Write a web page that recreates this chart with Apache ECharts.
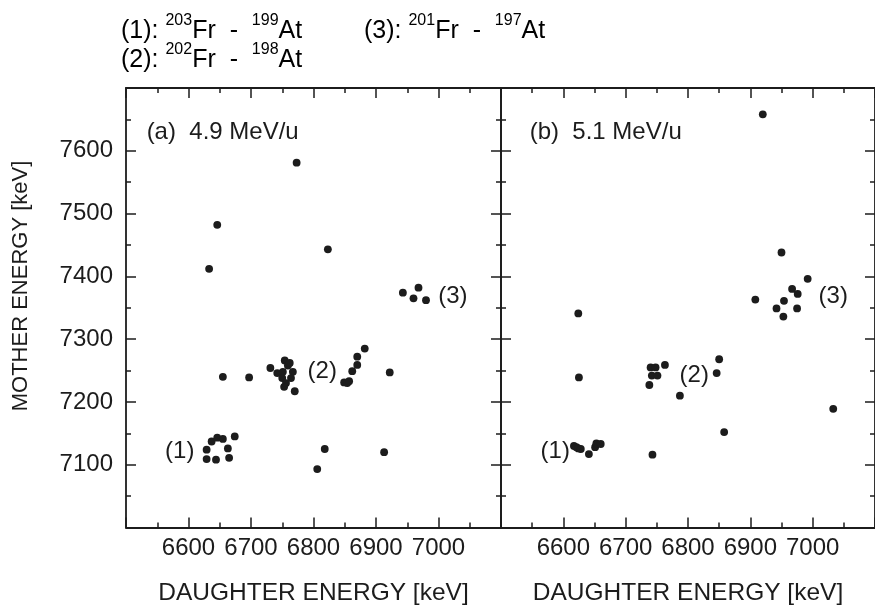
<!DOCTYPE html>
<html>
<head>
<meta charset="utf-8">
<script src="https://cdn.jsdelivr.net/npm/echarts@6/dist/echarts.min.js"></script>
<style>
  html, body { margin: 0; padding: 0; background: #fff; }
  #chart { width: 875px; height: 612px; }
</style>
</head>
<body>
<div id="chart"></div>
<script>
// Correlated alpha decays: daughter energy vs mother energy (keV)

// (a) 4.9 MeV/u
const daughterA = [6773, 6646, 6633, 6823, 6943, 6960, 6968, 6980,
  6655, 6697, 6731, 6754, 6759, 6762, 6742, 6751, 6767, 6750, 6764, 6756, 6753, 6770,
  6849, 6854, 6857, 6862, 6870, 6870, 6882, 6922,
  6818, 6806, 6913,
  6637, 6646, 6655, 6674, 6629, 6663, 6629, 6644, 6665];
const motherA = [7581, 7482, 7412, 7443, 7374, 7365, 7382, 7362,
  7240, 7239, 7254, 7266, 7258, 7262, 7246, 7248, 7248, 7238, 7238, 7230, 7224, 7217,
  7231, 7230, 7233, 7249, 7259, 7272, 7285, 7247,
  7125, 7093, 7120,
  7137, 7143, 7141, 7145, 7124, 7126, 7109, 7108, 7111];

// (b) 5.1 MeV/u
const daughterB = [6920, 6950, 6992, 6967, 6976, 6908, 6954, 6942, 6975, 6953,
  6624, 6850, 6625, 6740, 6748, 6763, 6742, 6751, 6738, 6846, 6787, 7033, 6858, 6743,
  6617, 6621, 6624, 6628, 6641, 6651, 6653, 6660];
const motherB = [7658, 7438, 7396, 7380, 7372, 7363, 7361, 7349, 7349, 7336,
  7341, 7268, 7239, 7255, 7255, 7259, 7242, 7242, 7227, 7246, 7210, 7189, 7152, 7116,
  7130, 7128, 7126, 7125, 7117, 7128, 7134, 7133];

// axis ranges and tick step (keV)
const xRange = [6500, 7100];
const yRange = [7000, 7700];
const tickStep = 100;

// group tags placed in data coordinates of each panel
const tagsA = [["(1)", 6586, 7122], ["(2)", 6814, 7248], ["(3)", 7023, 7368]];
const tagsB = [["(1)", 6587, 7122], ["(2)", 6810, 7243], ["(3)", 7033, 7368]];
const panelTitles = [["(a)  4.9 MeV/u", 6533, 7629], ["(b)  5.1 MeV/u", 6546, 7629]];

// reaction legend: [index, mother mass, daughter mass]
const pairs = [["(1)", "203", "199"], ["(2)", "202", "198"], ["(3)", "201", "197"]];

const FONT = "Liberation Sans, Arial, Helvetica, sans-serif";
const INK = "#1c1c1c";

const chart = echarts.init(document.getElementById("chart"), null, { renderer: "canvas" });

const plain = v => String(v);

function xAxisDef(gridIndex, position, labelled) {
  return {
    type: "value", gridIndex, position,
    min: xRange[0], max: xRange[1], interval: tickStep,
    splitLine: { show: false },
    axisLine: { show: true, onZero: false, lineStyle: { color: INK, width: 1.8 } },
    axisTick: { show: true, inside: true, length: 10, lineStyle: { color: INK, width: 1.5 } },
    minorTick: { show: true, splitNumber: 2, length: 5, lineStyle: { color: INK, width: 1.5 } },
    axisLabel: {
      show: labelled, showMinLabel: false, showMaxLabel: false, formatter: plain,
      color: INK, fontFamily: FONT, fontSize: 24, margin: 9
    },
    name: labelled ? "DAUGHTER ENERGY [keV]" : "",
    nameLocation: "middle", nameGap: 53,
    nameTextStyle: { color: INK, fontFamily: FONT, fontSize: 24.5 }
  };
}

function yAxisDef(gridIndex, position, labelled) {
  return {
    type: "value", gridIndex, position,
    min: yRange[0], max: yRange[1], interval: tickStep,
    splitLine: { show: false },
    axisLine: { show: true, onZero: false, lineStyle: { color: INK, width: 1.8 } },
    axisTick: { show: true, inside: true, length: 10, lineStyle: { color: INK, width: 1.5 } },
    minorTick: { show: true, splitNumber: 2, length: 5, lineStyle: { color: INK, width: 1.5 } },
    axisLabel: {
      show: labelled, showMinLabel: false, showMaxLabel: false, formatter: plain,
      color: INK, fontFamily: FONT, fontSize: 24, margin: 13
    }
  };
}

const zip = (xs, ys) => xs.map((x, i) => [x, ys[i]]);

chart.setOption({
  animation: false,
  backgroundColor: "#ffffff",
  grid: [
    { left: 126, top: 88, width: 375, height: 439.5 },
    { left: 501, top: 88, width: 378, height: 439.5 }
  ],
  xAxis: [
    xAxisDef(0, "bottom", true), xAxisDef(0, "top", false),
    xAxisDef(1, "bottom", true), xAxisDef(1, "top", false)
  ],
  yAxis: [
    yAxisDef(0, "left", true), yAxisDef(0, "right", false),
    yAxisDef(1, "left", false), yAxisDef(1, "right", false)
  ],
  series: [
    {
      type: "scatter", xAxisIndex: 0, yAxisIndex: 0,
      data: zip(daughterA, motherA), symbolSize: 7.8,
      itemStyle: { color: INK, opacity: 1 }
    },
    {
      type: "scatter", xAxisIndex: 2, yAxisIndex: 2,
      data: zip(daughterB, motherB), symbolSize: 7.8,
      itemStyle: { color: INK, opacity: 1 }
    }
  ]
});

// text annotations
const rich = {
  n: { fontFamily: FONT, fontSize: 25, color: INK, lineHeight: 37 },
  s: { fontFamily: FONT, fontSize: 16, color: INK, lineHeight: 16, verticalAlign: "top" }
};
function pairText(p) {
  return "{n|" + p[0] + ": }{s|" + p[1] + "}{n|Fr  -  }{s|" + p[2] + "}{n|At}";
}

const graphics = [
  { type: "text", left: 121, top: 13, style: { text: pairText(pairs[0]), rich } },
  { type: "text", left: 121, top: 42, style: { text: pairText(pairs[1]), rich } },
  { type: "text", left: 364, top: 13, style: { text: pairText(pairs[2]), rich } },
  {
    type: "text", x: 21, y: 286, rotation: Math.PI / 2,
    style: { text: "MOTHER ENERGY [keV]", fontFamily: FONT, fontSize: 22, fill: INK,
             textAlign: "center", textVerticalAlign: "middle" }
  }
];

function addTags(tags, xi, yi) {
  tags.forEach(t => {
    const p = chart.convertToPixel({ xAxisIndex: xi, yAxisIndex: yi }, [t[1], t[2]]);
    graphics.push({
      type: "text", x: p[0], y: p[1],
      style: { text: t[0], fontFamily: FONT, fontSize: 24, fill: INK,
               textAlign: "center", textVerticalAlign: "middle" }
    });
  });
}
addTags(tagsA, 0, 0);
addTags(tagsB, 2, 2);

panelTitles.forEach((t, i) => {
  const p = chart.convertToPixel({ xAxisIndex: i * 2, yAxisIndex: i * 2 }, [t[1], t[2]]);
  graphics.push({
    type: "text", x: p[0], y: p[1],
    style: { text: t[0], fontFamily: FONT, fontSize: 24, fill: INK,
             textAlign: "left", textVerticalAlign: "middle" }
  });
});

chart.setOption({ graphic: graphics });
</script>
</body>
</html>
